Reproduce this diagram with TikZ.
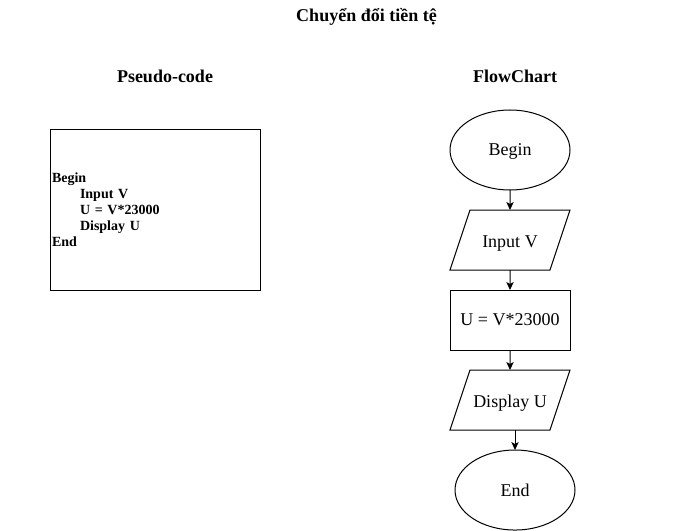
\documentclass[tikz,border=0pt]{standalone}
\usepackage{fontspec}
\setmainfont{Liberation Serif}
\usetikzlibrary{positioning, shapes.geometric, arrows.meta}

\begin{document}
\begin{tikzpicture}[-,auto,x=0.75pt,y=-0.75pt,line width=0.75pt,>={Stealth[length=6pt,width=5.5pt,inset=1.5pt]}]
        \tikzstyle{title}=[font=\fontsize{13.5}{16}\selectfont\bfseries]
        \tikzstyle{term}=[draw, ellipse, outer sep=0pt, minimum width=90pt, minimum height=60pt, text depth=0pt,
                          font=\fontsize{13.5}{16}\selectfont]
        \tikzstyle{io}=[draw, trapezium, trapezium left angle=71.57, trapezium right angle=108.43, trapezium stretches body,
                        outer sep=0pt, minimum width=90pt, text height=10.5pt, text depth=0pt, inner ysep=17.25pt, inner xsep=0pt,
                        font=\fontsize{13.5}{16}\selectfont]
        \tikzstyle{proc}=[draw, rectangle, outer sep=0pt, minimum width=90pt, minimum height=45pt, font=\fontsize{13.5}{16}\selectfont]
        \useasboundingbox (0,0) rectangle (681,531);
        \node[title]  (head)  at (366.5,17)   {Chuyển đổi tiền tệ};
        \node[title]  (phead) at (165,76)     {Pseudo-code};
        \node[title]  (fhead) at (515,76)     {FlowChart};
        % pseudo-code box
        \node[draw, rectangle, minimum height=120pt, text width=154.5pt, inner xsep=1.5pt, align=left,
              font=\fontsize{10.5}{12}\selectfont\bfseries] (code) at (155,210)
              {Begin\\\hspace*{21pt}Input V\\\hspace*{21pt}U = V*23000\\\hspace*{21pt}Display U\\End};
        % flowchart
        \node[term]  (begin) at (510,150)          {Begin};
        \node[io]    (inp)   [below=15pt of begin] {Input V};
        \node[proc]  (calc)  [below=15pt of inp]   {U = V*23000};
        \node[io]    (disp)  [below=15pt of calc]  {Display U};
        \node[term]  (end)   [below=15pt of disp, xshift=3.75pt] {End};
        \draw[->] (begin) -- (inp);
        \draw[->] (inp) -- (calc);
        \draw[->] (calc) -- (disp);
        \draw[->] (end.north |- disp.south) -- (end);
    \end{tikzpicture}
\end{document}
